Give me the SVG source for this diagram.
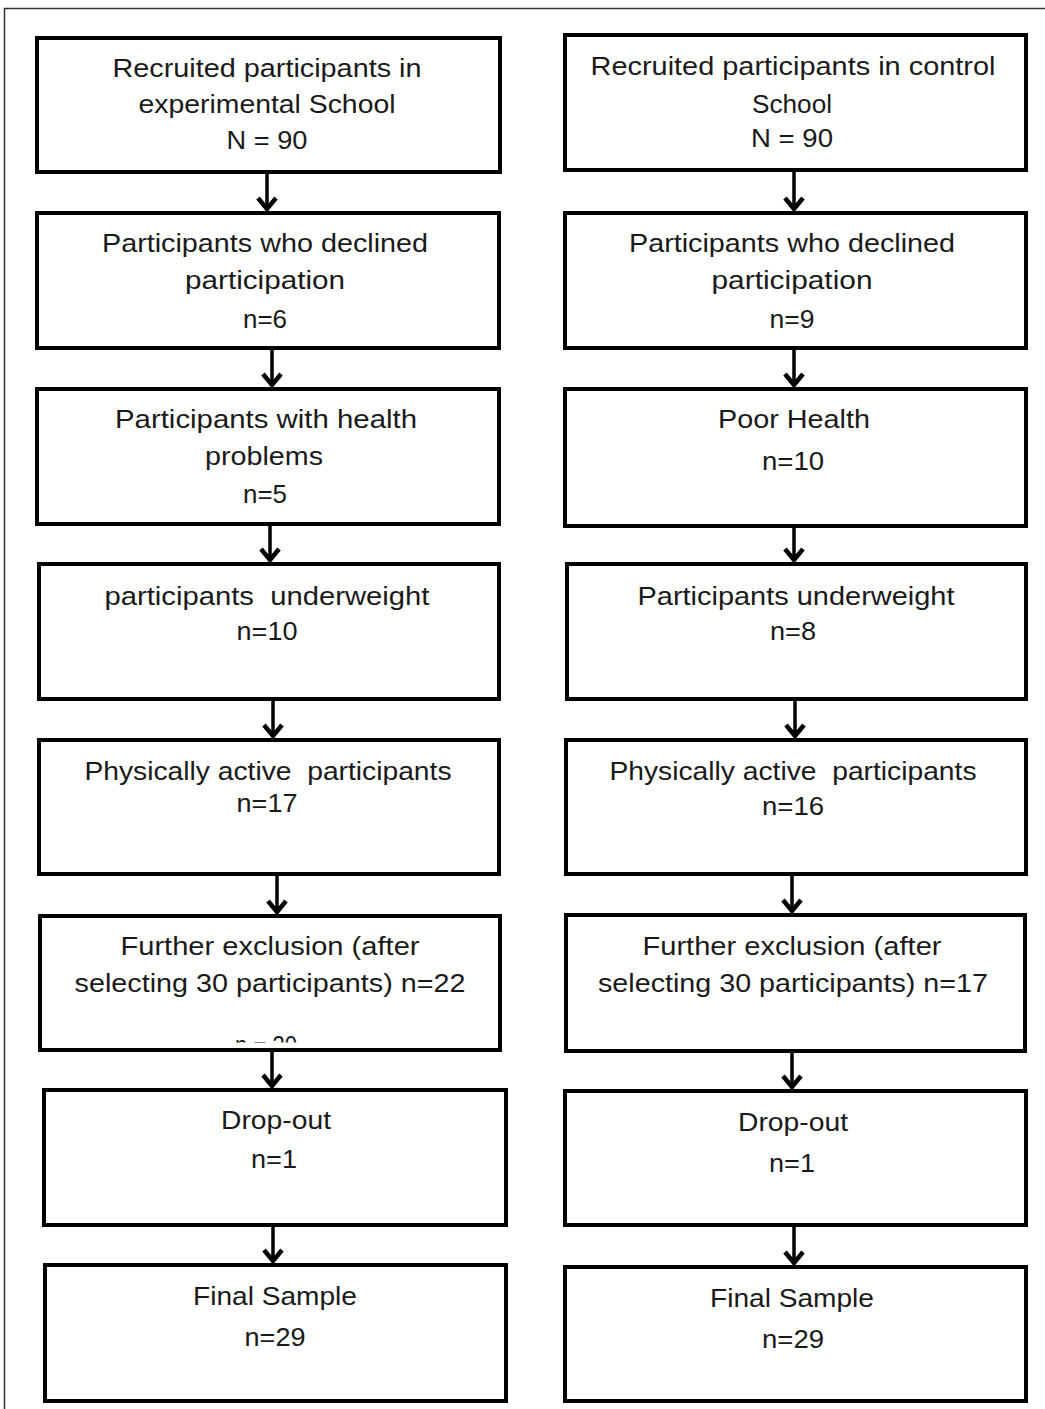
<svg xmlns="http://www.w3.org/2000/svg" width="1045" height="1409" viewBox="0 0 1045 1409">
<style>
.box{fill:#fff;stroke:#000;stroke-width:4}
.t{font-family:"Liberation Sans",Arial,sans-serif;font-size:25px;fill:#1a1a1a;text-anchor:middle;white-space:pre}
.c{stroke:#000;stroke-width:3.5;fill:none}
.frame{stroke:#333;stroke-width:1.5;fill:none}
</style>
<defs>
<marker id="ah" markerUnits="userSpaceOnUse" markerWidth="30" markerHeight="30" viewBox="-15 -15 30 30" refX="0" refY="0" orient="auto">
<path d="M-12,-9 L-1,0 L-12,9" fill="none" stroke="#000" stroke-width="4.5" stroke-linejoin="miter"/>
</marker>
<clipPath id="cut"><rect x="220" y="1025" width="100" height="17.5"/></clipPath>
</defs>
<rect width="1045" height="1409" fill="#fff"/>
<path class="frame" d="M4.5,1409 V8.5 H1045"/>

<g id="connectors">
<line class="c" x1="267" y1="174" x2="267" y2="210" marker-end="url(#ah)"/>
<line class="c" x1="272" y1="350" x2="272" y2="386" marker-end="url(#ah)"/>
<line class="c" x1="270" y1="526" x2="270" y2="561" marker-end="url(#ah)"/>
<line class="c" x1="273" y1="701" x2="273" y2="737" marker-end="url(#ah)"/>
<line class="c" x1="277" y1="876" x2="277" y2="913" marker-end="url(#ah)"/>
<line class="c" x1="272" y1="1052" x2="272" y2="1087" marker-end="url(#ah)"/>
<line class="c" x1="273" y1="1227" x2="273" y2="1262" marker-end="url(#ah)"/>
<line class="c" x1="794" y1="172" x2="794" y2="210" marker-end="url(#ah)"/>
<line class="c" x1="794" y1="350" x2="794" y2="386" marker-end="url(#ah)"/>
<line class="c" x1="794" y1="528" x2="794" y2="561" marker-end="url(#ah)"/>
<line class="c" x1="795" y1="701" x2="795" y2="737" marker-end="url(#ah)"/>
<line class="c" x1="792" y1="876" x2="792" y2="912" marker-end="url(#ah)"/>
<line class="c" x1="792" y1="1053" x2="792" y2="1088" marker-end="url(#ah)"/>
<line class="c" x1="794" y1="1227" x2="794" y2="1264" marker-end="url(#ah)"/>
</g>

<g id="L1"><rect class="box" x="37" y="38" width="463" height="134"/>
<text class="t" x="267" y="77" textLength="309" lengthAdjust="spacingAndGlyphs">Recruited participants in</text>
<text class="t" x="267" y="113" textLength="257" lengthAdjust="spacingAndGlyphs">experimental School</text>
<text class="t" x="267" y="149" textLength="81" lengthAdjust="spacingAndGlyphs">N = 90</text></g>

<g id="L2"><rect class="box" x="37" y="213" width="462" height="135"/>
<text class="t" x="265" y="252" textLength="326" lengthAdjust="spacingAndGlyphs">Participants who declined</text>
<text class="t" x="265" y="289" textLength="160" lengthAdjust="spacingAndGlyphs">participation</text>
<text class="t" x="265" y="328" textLength="44" lengthAdjust="spacingAndGlyphs">n=6</text></g>

<g id="L3"><rect class="box" x="37" y="389" width="462" height="135"/>
<text class="t" x="266" y="428" textLength="302" lengthAdjust="spacingAndGlyphs">Participants with health</text>
<text class="t" x="264" y="465" textLength="118" lengthAdjust="spacingAndGlyphs">problems</text>
<text class="t" x="265" y="503" textLength="44" lengthAdjust="spacingAndGlyphs">n=5</text></g>

<g id="L4"><rect class="box" x="39" y="564" width="460" height="135"/>
<text class="t" x="267" y="605" textLength="325" lengthAdjust="spacingAndGlyphs">participants  underweight</text>
<text class="t" x="267" y="640" textLength="61" lengthAdjust="spacingAndGlyphs">n=10</text></g>

<g id="L5"><rect class="box" x="39" y="740" width="460" height="134"/>
<text class="t" x="268" y="780" textLength="367" lengthAdjust="spacingAndGlyphs">Physically active  participants</text>
<text class="t" x="267" y="812" textLength="61" lengthAdjust="spacingAndGlyphs">n=17</text></g>

<g id="L6"><rect class="box" x="40" y="916" width="460" height="134"/>
<text class="t" x="270" y="955" textLength="299" lengthAdjust="spacingAndGlyphs">Further exclusion (after</text>
<text class="t" x="270" y="992" textLength="391" lengthAdjust="spacingAndGlyphs">selecting 30 participants) n=22</text>
<text class="t" x="266" y="1054" textLength="62" lengthAdjust="spacingAndGlyphs" clip-path="url(#cut)">n = 30</text></g>

<g id="L7"><rect class="box" x="44" y="1090" width="462" height="135"/>
<text class="t" x="276" y="1129" textLength="110" lengthAdjust="spacingAndGlyphs">Drop-out</text>
<text class="t" x="274" y="1168" textLength="46" lengthAdjust="spacingAndGlyphs">n=1</text></g>

<g id="L8"><rect class="box" x="45" y="1265" width="461" height="136"/>
<text class="t" x="275" y="1305" textLength="164" lengthAdjust="spacingAndGlyphs">Final Sample</text>
<text class="t" x="275" y="1346" textLength="61" lengthAdjust="spacingAndGlyphs">n=29</text></g>

<g id="R1"><rect class="box" x="565" y="35" width="461" height="135"/>
<text class="t" x="793" y="75" textLength="405" lengthAdjust="spacingAndGlyphs">Recruited participants in control</text>
<text class="t" x="792" y="113" textLength="80" lengthAdjust="spacingAndGlyphs">School</text>
<text class="t" x="792" y="147" textLength="82" lengthAdjust="spacingAndGlyphs">N = 90</text></g>

<g id="R2"><rect class="box" x="565" y="213" width="461" height="135"/>
<text class="t" x="792" y="252" textLength="326" lengthAdjust="spacingAndGlyphs">Participants who declined</text>
<text class="t" x="792" y="289" textLength="161" lengthAdjust="spacingAndGlyphs">participation</text>
<text class="t" x="792" y="328" textLength="45" lengthAdjust="spacingAndGlyphs">n=9</text></g>

<g id="R3"><rect class="box" x="565" y="389" width="461" height="137"/>
<text class="t" x="794" y="428" textLength="152" lengthAdjust="spacingAndGlyphs">Poor Health</text>
<text class="t" x="793" y="470" textLength="62" lengthAdjust="spacingAndGlyphs">n=10</text></g>

<g id="R4"><rect class="box" x="567" y="564" width="459" height="135"/>
<text class="t" x="796" y="605" textLength="317" lengthAdjust="spacingAndGlyphs">Participants underweight</text>
<text class="t" x="793" y="640" textLength="46" lengthAdjust="spacingAndGlyphs">n=8</text></g>

<g id="R5"><rect class="box" x="566" y="740" width="460" height="134"/>
<text class="t" x="793" y="780" textLength="367" lengthAdjust="spacingAndGlyphs">Physically active  participants</text>
<text class="t" x="793" y="815" textLength="62" lengthAdjust="spacingAndGlyphs">n=16</text></g>

<g id="R6"><rect class="box" x="566" y="915" width="459" height="136"/>
<text class="t" x="792" y="955" textLength="299" lengthAdjust="spacingAndGlyphs">Further exclusion (after</text>
<text class="t" x="793" y="992" textLength="390" lengthAdjust="spacingAndGlyphs">selecting 30 participants) n=17</text></g>

<g id="R7"><rect class="box" x="565" y="1091" width="461" height="134"/>
<text class="t" x="793" y="1131" textLength="110" lengthAdjust="spacingAndGlyphs">Drop-out</text>
<text class="t" x="792" y="1172" textLength="46" lengthAdjust="spacingAndGlyphs">n=1</text></g>

<g id="R8"><rect class="box" x="565" y="1267" width="461" height="134"/>
<text class="t" x="792" y="1307" textLength="164" lengthAdjust="spacingAndGlyphs">Final Sample</text>
<text class="t" x="793" y="1348" textLength="62" lengthAdjust="spacingAndGlyphs">n=29</text></g>
</svg>
